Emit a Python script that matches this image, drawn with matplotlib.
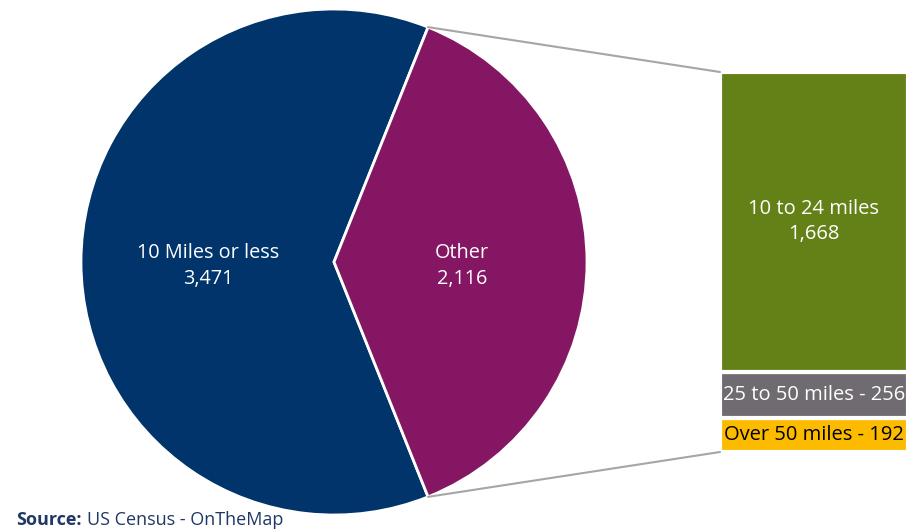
import numpy as np
import matplotlib
matplotlib.use('Agg')
import matplotlib.pyplot as plt
from matplotlib.patches import ConnectionPatch

plt.rcParams['font.family'] = ['Open Sans', 'DejaVu Sans']

# pie data
pie_labels = ['10 Miles or less', 'Other']
pie_values = [3471, 2116]
pie_colors = ['#00346B', '#851663']

# breakdown of "Other" (bottom to top)
bar_labels = ['Over 50 miles', '25 to 50 miles', '10 to 24 miles']
bar_values = [192, 256, 1668]
bar_colors = ['#FDBB00', '#6F6B71', '#648117']
bar_text_colors = ['black', 'white', 'white']

W, H = 923, 529
fig = plt.figure(figsize=(W / 100, H / 100), dpi=100)
ax = fig.add_axes([0, 0, 1, 1])

# centre the "Other" slice on the right side
half = 360 * pie_values[1] / sum(pie_values) / 2
cx, cy, r = 334, 267, 253
wedges, _ = ax.pie(pie_values, colors=pie_colors, startangle=half, counterclock=True,
                   center=(cx, cy), radius=r, frame=True,
                   wedgeprops=dict(edgecolor='white', linewidth=2))
ax.set_xlim(0, W)
ax.set_ylim(0, H)
ax.set_aspect('equal')
ax.axis('off')

ax.text(208, 263, '%s\n%s' % (pie_labels[0], format(pie_values[0], ',')), color='white',
        fontsize=14.3, ha='center', va='center', linespacing=1.35)
ax.text(462, 263, '%s\n%s' % (pie_labels[1], format(pie_values[1], ',')), color='white',
        fontsize=14.3, ha='center', va='center', linespacing=1.35)

# stacked bar for the breakdown
bx0, bx1, by0, by1 = 720, 908, 72, 452
bax = fig.add_axes([bx0 / W, (H - by1) / H, (bx1 - bx0) / W, (by1 - by0) / H])
bottoms = np.concatenate([[0], np.cumsum(bar_values)[:-1]])
bax.bar([0] * len(bar_values), bar_values, bottom=bottoms, width=1, color=bar_colors,
        edgecolor='white', linewidth=3)
bax.set_xlim(-0.5, 0.5)
bax.set_ylim(0, sum(bar_values))
bax.axis('off')

for i, (lab, val) in enumerate(zip(bar_labels, bar_values)):
    mid = bottoms[i] + val / 2
    if i == 2:
        txt = '%s\n%s' % (lab, format(val, ','))
    else:
        txt = '%s - %s' % (lab, format(val, ','))
    bax.text(0, mid, txt, color=bar_text_colors[i], fontsize=14.5, ha='center', va='center',
             linespacing=1.35)

# connector lines
ang = np.deg2rad(half)
for sgn, yb in [(1, 1), (-1, 0)]:
    p = (cx + r * np.cos(ang), cy + sgn * r * np.sin(ang))
    con = ConnectionPatch(xyA=p, coordsA=ax.transData, xyB=(0, yb), coordsB=bax.transAxes,
                          color='#A6A6A6', linewidth=1.5)
    fig.add_artist(con)

fig.text(16 / W, 1 - 520 / H, 'Source:', fontsize=13, fontweight='bold', color='#1F3864',
         va='center', ha='left')
fig.text(87 / W, 1 - 520 / H, 'US Census - OnTheMap', fontsize=13, color='#1F3864',
         va='center', ha='left')

fig.savefig('out.png', dpi=100)
